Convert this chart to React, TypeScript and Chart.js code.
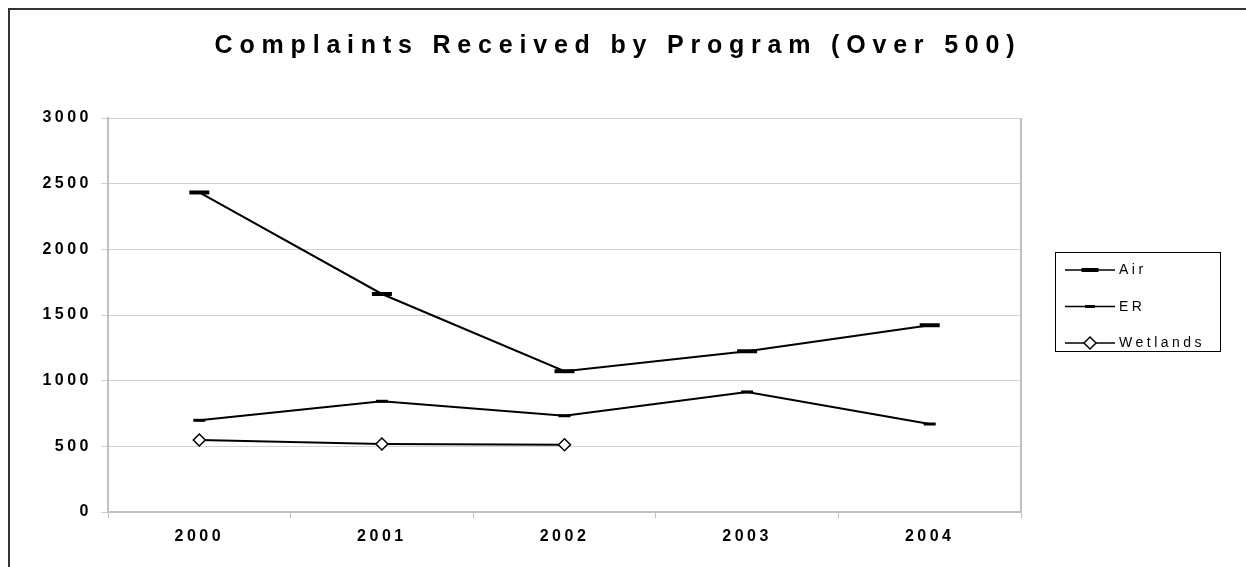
import React, { useEffect, useRef } from 'react';
import { Chart, registerables } from 'chart.js';

Chart.register(...registerables);

const years = ['2000', '2001', '2002', '2003', '2004'];
const airValues = [2433, 1660, 1072, 1224, 1422];
const erValues = [698, 843, 733, 914, 670];
const wetlandsValues = [548, 518, 512];
const seriesNames = ['Air', 'ER', 'Wetlands'];
const yTickValues = [0, 500, 1000, 1500, 2000, 2500, 3000];
const titleText = 'Complaints Received by Program (Over 500)';

const FONT = "'Liberation Sans', Arial, sans-serif";

function spacingFor(font: string): string {
  const m = /(\d+(?:\.\d+)?)px/.exec(font || '');
  const size = m ? parseFloat(m[1]) : 12;
  if (size >= 20) return '6.8px';
  if (size >= 15) return '3.5px';
  return '3.5px';
}

function installLetterSpacing(ctx: any) {
  const proto = Object.getPrototypeOf(ctx);
  const desc = Object.getOwnPropertyDescriptor(proto, 'font');
  if (!desc || !desc.get || !desc.set) return;
  Object.defineProperty(ctx, 'font', {
    configurable: true,
    get() {
      return desc.get!.call(this);
    },
    set(v: string) {
      desc.set!.call(this, v);
      try {
        this.letterSpacing = spacingFor(v);
      } catch (e) {
        /* ignore */
      }
    },
  });
}

const boxLegend = {
  id: 'boxLegend',
  afterDraw(chart: any) {
    const ctx = chart.ctx;
    const a = chart.chartArea;
    const left = a.right + 34;
    const top = 242;
    const w = 165;
    const h = 99;
    ctx.save();
    ctx.strokeStyle = '#000';
    ctx.lineWidth = 1;
    ctx.strokeRect(Math.round(left) + 0.5, top + 0.5, w, h);
    chart.data.datasets.forEach((ds: any, i: number) => {
      const y = top + 18 + i * 36.5;
      const x0 = left + 10;
      const x1 = left + 60;
      const cx = (x0 + x1) / 2;
      ctx.beginPath();
      ctx.moveTo(x0, y);
      ctx.lineTo(x1, y);
      ctx.lineWidth = 1.5;
      ctx.strokeStyle = '#000';
      ctx.stroke();
      ctx.fillStyle = '#000';
      if (i === 0) {
        ctx.fillRect(cx - 8.5, y - 2, 17, 4);
      } else if (i === 1) {
        ctx.fillRect(cx - 5, y - 1.5, 10, 3);
      } else {
        const r = 6;
        ctx.beginPath();
        ctx.moveTo(cx - r, y);
        ctx.lineTo(cx, y - r);
        ctx.lineTo(cx + r, y);
        ctx.lineTo(cx, y + r);
        ctx.closePath();
        ctx.fillStyle = '#fff';
        ctx.fill();
        ctx.lineWidth = 1.5;
        ctx.strokeStyle = '#000';
        ctx.stroke();
      }
      ctx.font = `14px ${FONT}`;
      ctx.fillStyle = '#000';
      ctx.textBaseline = 'middle';
      ctx.textAlign = 'left';
      ctx.fillText(ds.label, left + 64, y + 0.5);
    });
    ctx.restore();
  },
};

const plotRightBorder = {
  id: 'plotRightBorder',
  beforeDatasetsDraw(chart: any) {
    const ctx = chart.ctx;
    const a = chart.chartArea;
    ctx.save();
    ctx.strokeStyle = '#c0c0c0';
    ctx.lineWidth = 2;
    ctx.beginPath();
    ctx.moveTo(a.right, a.top);
    ctx.lineTo(a.right, a.bottom);
    ctx.stroke();
    ctx.restore();
  },
};

export default function App() {
  const canvasRef = useRef<HTMLCanvasElement | null>(null);

  useEffect(() => {
    const canvas = canvasRef.current;
    if (!canvas) return;
    const ctx = canvas.getContext('2d');
    if (ctx) installLetterSpacing(ctx);

    const chart = new Chart(canvas, {
      type: 'line',
      data: {
        labels: years,
        datasets: [
          {
            label: seriesNames[0],
            data: airValues,
            borderColor: '#000',
            borderWidth: 2,
            tension: 0,
            pointStyle: 'line',
            pointRadius: 10,
            pointBorderWidth: 4,
            pointBorderColor: '#000',
            pointBackgroundColor: '#000',
          },
          {
            label: seriesNames[1],
            data: erValues,
            borderColor: '#000',
            borderWidth: 2,
            tension: 0,
            pointStyle: 'line',
            pointRadius: 6,
            pointBorderWidth: 3,
            pointBorderColor: '#000',
            pointBackgroundColor: '#000',
          },
          {
            label: seriesNames[2],
            data: wetlandsValues,
            borderColor: '#000',
            borderWidth: 2,
            tension: 0,
            pointStyle: 'rectRot',
            pointRadius: 6,
            pointBorderWidth: 1.5,
            pointBorderColor: '#000',
            pointBackgroundColor: '#fff',
          },
        ],
      },
      options: {
        responsive: false,
        animation: false,
        devicePixelRatio: 1,
        layout: { padding: { left: 0, right: 20, top: 0, bottom: 0 } },
        plugins: {
          legend: { display: false },
          tooltip: { enabled: false },
          title: {
            display: true,
            text: titleText,
            color: '#000',
            font: { family: FONT, size: 25, weight: 'bold', lineHeight: 1.2 },
            padding: { top: 21, bottom: 57 },
          },
        },
        scales: {
          x: {
            type: 'category',
            offset: true,
            afterFit: (s: any) => {
              s.height = 55;
            },
            grid: {
              drawOnChartArea: false,
              drawTicks: true,
              tickLength: 6,
              offset: true,
              color: '#c0c0c0',
            },
            border: { color: '#c0c0c0', width: 2 },
            ticks: {
              color: '#000',
              padding: 9,
              font: { family: FONT, size: 16, weight: 'bold' },
              maxRotation: 0,
            },
          },
          y: {
            min: 0,
            max: 3000,
            afterFit: (s: any) => {
              s.width = 98;
            },
            afterBuildTicks: (s: any) => {
              s.ticks = yTickValues.map((v) => ({ value: v }));
            },
            grid: {
              color: '#d0d0d0',
              lineWidth: 1,
              drawTicks: true,
              tickLength: 7,
            },
            border: { color: '#c0c0c0', width: 2 },
            ticks: {
              color: '#000',
              padding: 9,
              font: { family: FONT, size: 16, weight: 'bold' },
              callback: (v: any) => String(v),
            },
          },
          legendSpace: {
            type: 'linear',
            position: 'right',
            display: true,
            afterFit: (s: any) => {
              s.width = 205;
            },
            grid: { display: false, drawTicks: false },
            border: { display: false },
            ticks: { display: false },
          },
        },
      },
      plugins: [plotRightBorder, boxLegend],
    });

    return () => {
      chart.destroy();
    };
  }, []);

  return (
    <div
      style={{
        position: 'fixed',
        left: 8,
        top: 8,
        width: 1238,
        height: 559,
        overflow: 'hidden',
        background: '#fff',
      }}
    >
      <div
        style={{
          borderTop: '2px solid #333',
          borderLeft: '2px solid #333',
          width: 1236,
          height: 557,
        }}
      >
        <canvas ref={canvasRef} width={1236} height={557} style={{ display: 'block' }} />
      </div>
    </div>
  );
}
